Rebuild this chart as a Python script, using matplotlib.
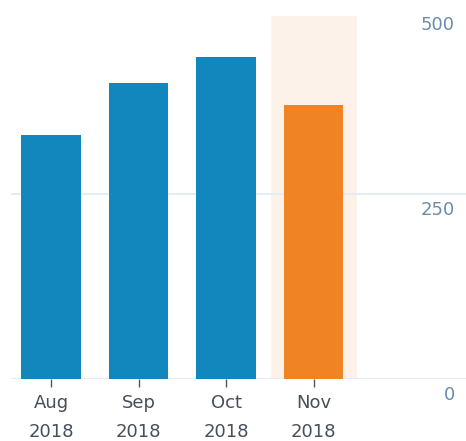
import matplotlib
matplotlib.use("Agg")
import matplotlib.pyplot as plt

months = ["Aug\n2018", "Sep\n2018", "Oct\n2018", "Nov\n2018"]
values = [330, 400, 435, 370]
highlight_index = 3
y_ticks = [0, 250, 500]

blue = "#1287bd"
orange = "#f08323"
hl_bg = "#fdf2ea"
grid_c = "#e6ecf2"
ylab_c = "#6a8cae"
xlab_c = "#46505a"

plt.rcParams['font.family'] = ['DejaVu Sans']
fig = plt.figure(figsize=(4.66, 4.41), dpi=100)
ax = fig.add_axes([11/466, 1 - 379/441, (466 - 11)/466, (379 - 16)/441])

x = list(range(len(values)))
colors = [orange if i == highlight_index else blue for i in x]

ax.set_xlim(-0.46, 4.74)
ax.set_ylim(0, 490)

ax.bar([highlight_index], [490], width=0.98, color=hl_bg, zorder=0)
for yv in y_ticks[:-1]:
    ax.axhline(yv, color=grid_c, lw=1.5, zorder=1)
ax.bar(x, values, width=0.68, color=colors, zorder=2)

for yv in y_ticks:
    ax.annotate(str(yv), xy=(1.0, yv), xycoords=('axes fraction', 'data'),
                xytext=(-8, -11.8), textcoords='offset points',
                ha='right', va='center', fontsize=13, color=ylab_c,
                annotation_clip=False)

ax.set_xticks(x)
ax.set_xticklabels(months, fontsize=13, color=xlab_c, linespacing=1.75)
ax.tick_params(axis='x', length=6, width=1, color="#555555", pad=5)
ax.set_yticks([])
for s in ax.spines.values():
    s.set_visible(False)

fig.savefig("out.png", dpi=100)
